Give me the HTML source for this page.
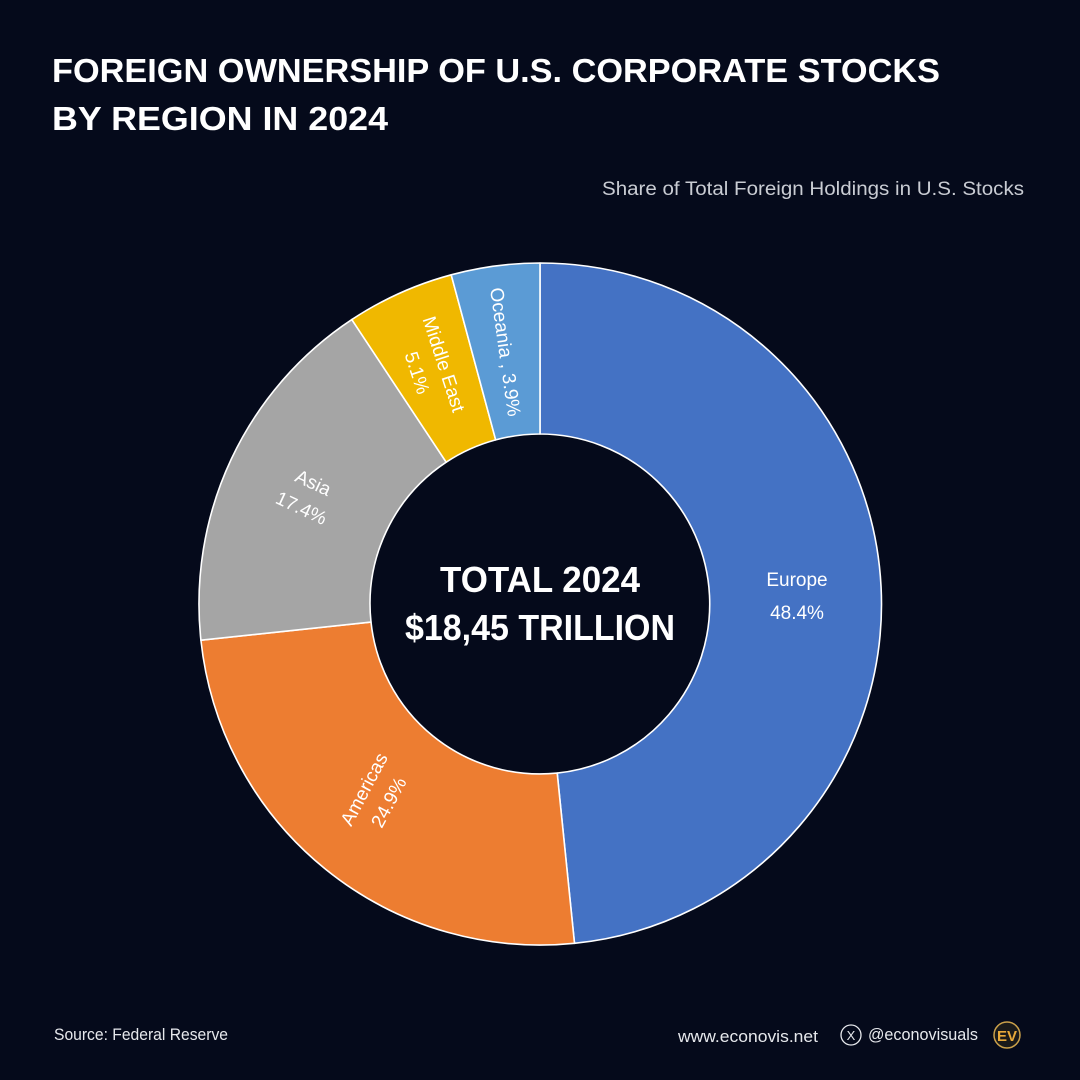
<!DOCTYPE html>
<html><head><meta charset="utf-8"><style>
html,body{margin:0;padding:0;background:#050a1b;}
svg{display:block}
text{font-family:"Liberation Sans",sans-serif;}
</style></head><body>
<svg width="1080" height="1080" viewBox="0 0 1080 1080">
<rect width="1080" height="1080" fill="#050a1b"/>
<text x="52" y="82" fill="#fff" font-size="33" font-weight="bold" textLength="888" lengthAdjust="spacingAndGlyphs">FOREIGN OWNERSHIP OF U.S. CORPORATE STOCKS</text>
<text x="52" y="130" fill="#fff" font-size="33" font-weight="bold" textLength="336" lengthAdjust="spacingAndGlyphs">BY REGION IN 2024</text>
<text x="1024" y="195" fill="#c9ccd3" font-size="19" text-anchor="end" textLength="422" lengthAdjust="spacingAndGlyphs">Share of Total Foreign Holdings in U.S. Stocks</text>
<g stroke="#ffffff" stroke-width="1.6" stroke-linejoin="round">
<path d="M540 263 A341 341 0 0 1 574.5 943.3 L557.2 773.1 A170 170 0 0 0 540 434 Z" fill="#4472c4"/>
<path d="M574.5 943.3 A341 341 0 0 1 200.9 640.2 L371 622.1 A170 170 0 0 0 557.2 773.1 Z" fill="#ed7d31"/>
<path d="M200.9 640.2 A341 341 0 0 1 351.8 319.6 L446.2 462.2 A170 170 0 0 0 371 622.1 Z" fill="#a5a5a5"/>
<path d="M351.8 319.6 A341 341 0 0 1 451.2 274.8 L495.7 439.9 A170 170 0 0 0 446.2 462.2 Z" fill="#f0b800"/>
<path d="M451.2 274.8 A341 341 0 0 1 540 263 L540 434 A170 170 0 0 0 495.7 439.9 Z" fill="#5b9bd5"/>
</g>
<g fill="#fff" font-size="19" text-anchor="middle">
<text x="797" y="586">Europe</text>
<text x="797" y="619">48.4%</text>
<g transform="translate(375,795) rotate(-62)"><text x="0" y="-6">Americas</text><text x="0" y="22">24.9%</text></g>
<g transform="translate(308,494) rotate(25)"><text x="0" y="-6">Asia</text><text x="0" y="22">17.4%</text></g>
<g transform="translate(432,368) rotate(72)"><text x="0" y="-6">Middle East</text><text x="0" y="22">5.1%</text></g>
<g transform="translate(505,352) rotate(82)"><text x="0" y="6">Oceania , 3.9%</text></g>
</g>
<text x="540" y="592" fill="#fff" font-size="36" font-weight="bold" text-anchor="middle" textLength="200" lengthAdjust="spacingAndGlyphs">TOTAL 2024</text>
<text x="540" y="640" fill="#fff" font-size="36" font-weight="bold" text-anchor="middle" textLength="270" lengthAdjust="spacingAndGlyphs">$18,45 TRILLION</text>
<text x="54" y="1040" fill="#e6e8ec" font-size="17" textLength="174" lengthAdjust="spacingAndGlyphs">Source: Federal Reserve</text>
<text x="678" y="1042" fill="#e6e8ec" font-size="17" textLength="140" lengthAdjust="spacingAndGlyphs">www.econovis.net</text>
<circle cx="851" cy="1035" r="10" fill="none" stroke="#e6e8ec" stroke-width="1.3"/>
<text x="851" y="1040" fill="#e6e8ec" font-size="13" text-anchor="middle">X</text>
<text x="868" y="1040" fill="#e6e8ec" font-size="17" textLength="110" lengthAdjust="spacingAndGlyphs">@econovisuals</text>
<circle cx="1007" cy="1035" r="13" fill="#1a1a1a" stroke="#caa04a" stroke-width="1.5"/>
<text x="1007" y="1041" fill="#e8a93a" font-size="15" font-weight="bold" text-anchor="middle">EV</text>
</svg>
</body></html>
